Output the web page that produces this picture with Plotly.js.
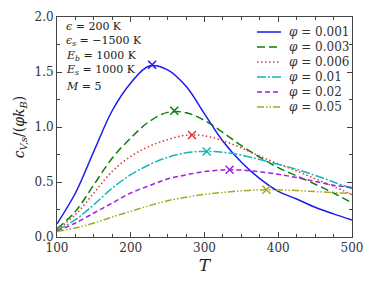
<!DOCTYPE html>
<html>
<head>
<meta charset="utf-8">
<script src="https://cdn.plot.ly/plotly-3.0.1.min.js"></script>
<style>html,body{margin:0;padding:0;background:#fff;}#plot{width:374px;height:287px;}</style>
</head>
<body>
<div id="plot"></div>
<script>
const T = [100,125,150,175,200,225,250,275,300,325,350,375,400,425,450,475,500];
const cv_0001 = [0.12,0.40,0.78,1.15,1.40,1.555,1.52,1.37,1.12,0.87,0.68,0.53,0.415,0.345,0.27,0.21,0.155];
const cv_0003 = [0.075,0.233,0.475,0.718,0.90,1.05,1.133,1.13,1.06,0.95,0.83,0.725,0.63,0.555,0.48,0.40,0.31];
const cv_0006 = [0.065,0.203,0.40,0.597,0.733,0.824,0.885,0.925,0.92,0.875,0.81,0.735,0.665,0.60,0.53,0.46,0.385];
const cv_001  = [0.06,0.157,0.294,0.445,0.566,0.657,0.724,0.765,0.778,0.77,0.745,0.705,0.66,0.615,0.56,0.50,0.44];
const cv_002  = [0.055,0.127,0.218,0.309,0.40,0.466,0.527,0.565,0.595,0.61,0.608,0.593,0.57,0.54,0.505,0.47,0.45];
const cv_005  = [0.05,0.082,0.127,0.182,0.233,0.285,0.33,0.362,0.387,0.405,0.42,0.428,0.428,0.422,0.413,0.404,0.395];
const peakT = [229,259,283,303,334,384];
const peakV = [1.566,1.148,0.928,0.778,0.612,0.43];
const names = ["0.001","0.003","0.006","0.01","0.02","0.05"];
const series = [cv_0001,cv_0003,cv_0006,cv_001,cv_002,cv_005];
const colors = ["#1a1af0","#0a800a","#e03535","#10b8b8","#a020e0","#a8a820"];
const dashes = ["solid","8px,4px","1.5px,2.5px","9px,2px,2px,2px","5px,3px","7px,2px,1.5px,2px,1.5px,2px"];

const ff = "DejaVu Serif";

const traces = [];
series.forEach((s,i)=>{
  traces.push({x:T,y:s,type:'scatter',mode:'lines',line:{shape:'spline',smoothing:1.0,color:colors[i],width:1.5,dash:dashes[i]},
    name:'<i>φ</i> = '+names[i],showlegend:false,hoverinfo:'skip'});
});
series.forEach((s,i)=>{
  traces.push({x:[peakT[i]],y:[peakV[i]],type:'scatter',mode:'markers',showlegend:false,
    marker:{symbol:'x-thin-open',size:8,line:{color:colors[i],width:1.5},color:colors[i]},hoverinfo:'skip'});
});

const px = v => (v-57)/295;
const py = v => 1-(v-17)/220;

const textLines = ["<i>ϵ</i> = 200 K","<i>ϵ<sub>s</sub></i> = −1500 K","<i>E<sub>b</sub></i> = 1000 K","<i>E<sub>s</sub></i> = 1000 K","<i>M</i> = 5"];
const textY = [27,41,56,70,86];
const annotations = textLines.map((t,i)=>({text:t,xref:'paper',yref:'paper',x:px(64),y:py(textY[i]),
  xanchor:'left',yanchor:'middle',showarrow:false,font:{family:ff,size:11,color:'#222'}}));

const legY = [32,47,62,77,92,107];
const shapes = [];
names.forEach((n,i)=>{
  shapes.push({type:'line',xref:'paper',yref:'paper',x0:px(257),x1:px(281),y0:py(legY[i]),y1:py(legY[i]),
    line:{color:colors[i],width:1.5,dash:dashes[i]}});
  annotations.push({text:'<i>φ</i> = '+n,xref:'paper',yref:'paper',x:px(287),y:py(legY[i]),xanchor:'left',yanchor:'middle',
    showarrow:false,font:{family:ff,size:12,color:'#333'}});
});

const axisCommon = {showline:true,linecolor:'#444',linewidth:1,mirror:'allticks',ticks:'inside',ticklen:5,tickcolor:'#444',
  showgrid:false,zeroline:false,tickfont:{family:ff,size:12,color:'#333'}};

const layout = {
  width:374,height:287,margin:{l:57,r:22,t:17,b:50},
  paper_bgcolor:'#fff',plot_bgcolor:'#fff',
  font:{family:ff,color:'#222'},
  showlegend:false,
  xaxis:Object.assign({},axisCommon,{range:[100,500],dtick:100,tick0:100,
    minor:{dtick:25,ticklen:3,tickcolor:'#444',ticks:'inside'},
    title:{text:'<i>T</i>',font:{family:ff,size:17,color:'#222'},standoff:4}}),
  yaxis:Object.assign({},axisCommon,{range:[0,2.0],dtick:0.5,tick0:0,tickformat:'.1f',
    minor:{dtick:0.25,ticklen:3,tickcolor:'#444',ticks:'inside'},
    title:{text:'<i>c<sub>V,s</sub></i>/(<i>φk<sub>B</sub></i>)',font:{family:ff,size:14,color:'#222'},standoff:6}}),
  annotations:annotations,
  shapes:shapes
};
Plotly.newPlot('plot',traces,layout,{displayModeBar:false,staticPlot:true});
</script>
</body>
</html>
